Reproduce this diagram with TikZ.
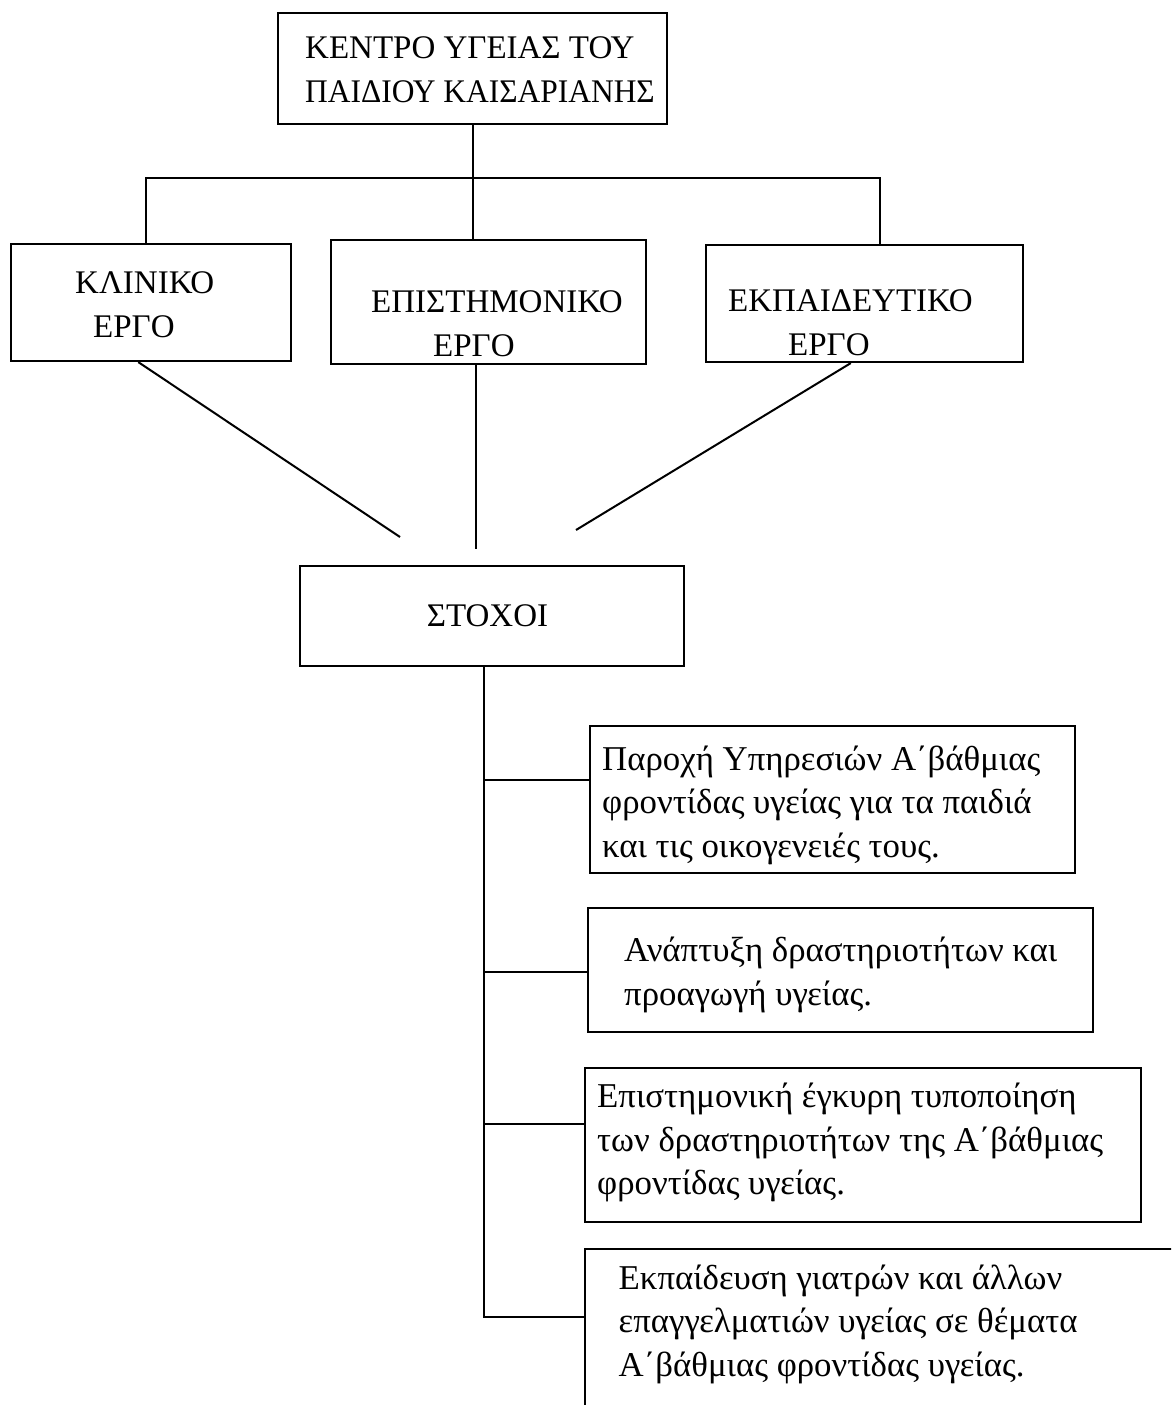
\documentclass[tikz,border=0pt]{standalone}
\usepackage{graphicx}
\usepackage{fontspec}
\setmainfont{Liberation Serif}
\usetikzlibrary{calc}
\begin{document}
\begin{tikzpicture}[x=1pt,y=-1pt,
  box/.style={draw, line width=2.2pt, inner sep=0pt},
  ln/.style={line width=2pt},
  txt/.style={inner sep=0pt, font=\fontsize{33}{44}\selectfont},
  body/.style={inner sep=0pt, align=left, anchor=west, font=\fontsize{34.8}{43.5}\selectfont}]
\useasboundingbox (0,0) rectangle (1171,1405);
\clip (0,0) rectangle (1171,1405);
% top
\node[box, minimum width=389, minimum height=111] (top) at (472.5,68.5) {};
\node[txt, align=left, anchor=west] (topt) at (305,70) {ΚΕΝΤΡΟ ΥΓΕΙΑΣ ΤΟΥ\\\scalebox{0.953}[1]{ΠΑΙΔΙΟΥ ΚΑΙΣΑΡΙΑΝΗΣ}};
% three works
\node[box, minimum width=280, minimum height=117] (k1) at (151,302.5) {};
\node[txt, align=left, anchor=west] (k1t) at (75,305) {ΚΛΙΝΙΚΟ\\\hspace*{18pt}ΕΡΓΟ};
\node[box, minimum width=315, minimum height=124] (k2) at (488.5,302) {};
\node[txt, align=left, anchor=west] (k2t) at (371,324) {ΕΠΙΣΤΗΜΟΝΙΚΟ\\\hspace*{62pt}ΕΡΓΟ};
\node[box, minimum width=317, minimum height=117] (k3) at (864.5,303.5) {};
\node[txt, align=left, anchor=west] (k3t) at (728,322.5) {ΕΚΠΑΙΔΕΥΤΙΚΟ\\\hspace*{60pt}ΕΡΓΟ};
% goals
\node[box, minimum width=384, minimum height=100] (goal) at (492,616) {};
\node[txt] (goalt) at (487.5,616) {ΣΤΟΧΟΙ};
% goal items
\node[box, minimum width=485, minimum height=147] (gA) at (832.5,799.5) {};
\node[body] (gAt) at (602,805) {Παροχή Υπηρεσιών Α΄βάθμιας\\φροντίδας υγείας για τα παιδιά\\και τις οικογενειές τους.};
\node[box, minimum width=505, minimum height=124] (gB) at (840.5,970) {};
\node[body] (gBt) at (624,975) {Ανάπτυξη δραστηριοτήτων και\\προαγωγή υγείας.};
\node[box, minimum width=556, minimum height=154] (gC) at (863,1145) {};
\node[body] (gCt) at (597,1142.5) {Επιστημονική έγκυρη τυποποίηση\\των δραστηριοτήτων της Α΄βάθμιας\\φροντίδας υγείας.};
\node[box, minimum width=640, minimum height=220] (gD) at (905,1359) {};
\node[body] (gDt) at (618.5,1324) {Εκπαίδευση γιατρών και άλλων\\επαγγελματιών υγείας σε θέματα\\Α΄βάθμιας φροντίδας υγείας.};
% bus from top
\coordinate (busL) at (146,178);
\coordinate (busR) at (880,178);
\draw[ln] (busL |- k1.north) -- (busL) -- (busR) -- (busR |- k3.north);
\draw[ln] (top.south) -- (top.south |- k2.north);
% lines towards goals
\coordinate (e1) at (400,537);
\coordinate (e2) at (476,549);
\coordinate (e3) at (576,530);
\draw[ln] ($(k1.south west)!0.455!(k1.south east)$) -- (e1);
\draw[ln] (e2 |- k2.south) -- (e2);
\draw[ln] ($(k3.south west)!0.457!(k3.south east)$) -- (e3);
% spine
\coordinate (sp) at (484,1317);
\coordinate (bA) at (484,780);
\coordinate (bB) at (484,972);
\coordinate (bC) at (484,1124);
\draw[ln] (sp |- goal.south) -- (sp) -- (sp -| gD.west);
\draw[ln] (bA) -- (bA -| gA.west);
\draw[ln] (bB) -- (bB -| gB.west);
\draw[ln] (bC) -- (bC -| gC.west);
\end{tikzpicture}
\end{document}
